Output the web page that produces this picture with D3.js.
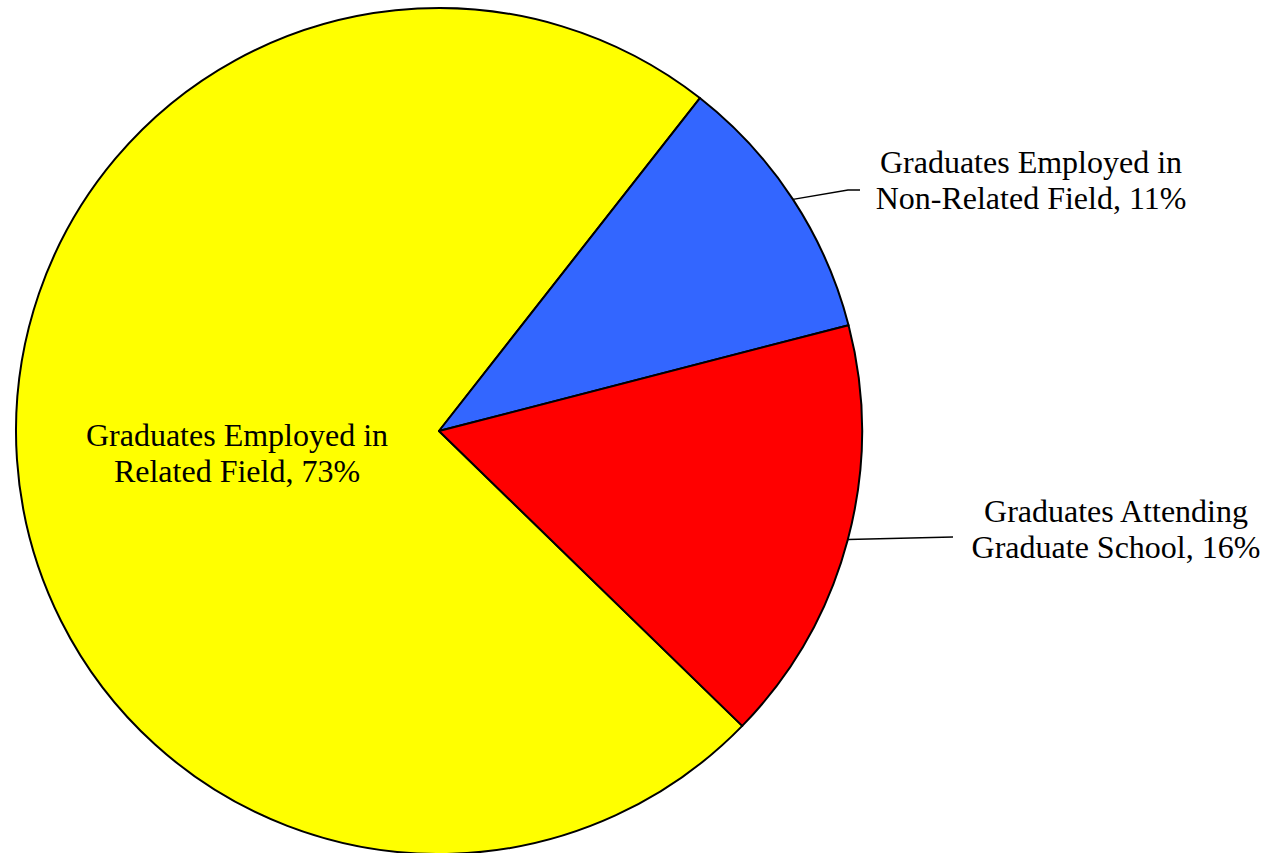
<!DOCTYPE html>
<html>
<head>
<meta charset="utf-8">
<script src="https://cdn.jsdelivr.net/npm/d3@7"></script>
<style>
  html, body { margin: 0; padding: 0; background: #fff; }
  svg { display: block; }
  text { font-family: "Liberation Serif", "Times New Roman", serif; font-size: 32px; fill: #000; }
</style>
</head>
<body>
<script>
/* DATA */
const categories = ["Related Field", "Non-Related Field", "Graduate School"];
const shares = [73.3, 10.4, 16.3];          // slice sizes
const colors = ["#ffff00", "#3366ff", "#ff0000"];
const labelLines = [
  ["Graduates Employed in", "Related Field, 73%"],
  ["Graduates Employed in", "Non-Related Field, 11%"],
  ["Graduates Attending", "Graduate School, 16%"]
];

/* LAYOUT */
const width = 1274, height = 853;
const cx = 439, cy = 431, radius = 423;
const startDeg = 134.2;
const lineGap = 35.5;
// label anchor (centre x, first baseline) and leader elbows, per slice
const labelPos = [
  {x: 237, y: 446, leader: null},
  {x: 1031, y: 173, leader: [[848, 190], [860, 190]]},
  {x: 1116, y: 522, leader: [[953, 537]]}
];

const svg = d3.select("body").append("svg")
    .attr("width", width)
    .attr("height", height);

const g = svg.append("g")
    .attr("transform", "translate(" + cx + "," + cy + ")");

const pie = d3.pie()
    .sort(null)
    .value(d => d)
    .startAngle(startDeg * Math.PI / 180)
    .endAngle(startDeg * Math.PI / 180 + 2 * Math.PI);

const arcs = pie(shares);

const arc = d3.arc().innerRadius(0).outerRadius(radius);
const rim = d3.arc().innerRadius(radius).outerRadius(radius);

g.selectAll("path.slice")
  .data(arcs)
  .enter().append("path")
    .attr("class", "slice")
    .attr("d", arc)
    .attr("fill", (d, i) => colors[i])
    .attr("stroke", "#000")
    .attr("stroke-width", 2)
    .attr("stroke-linejoin", "round");

// leader lines
arcs.forEach((d, i) => {
  const p = labelPos[i];
  if (!p.leader) return;
  const start = rim.centroid(d);
  const pts = [[start[0] + cx, start[1] + cy]].concat(p.leader);
  svg.append("path")
    .attr("d", d3.line()(pts))
    .attr("fill", "none")
    .attr("stroke", "#000")
    .attr("stroke-width", 1.5);
});

// labels
labelLines.forEach((lines, i) => {
  const p = labelPos[i];
  const t = svg.append("text")
      .attr("text-anchor", "middle");
  lines.forEach((s, j) => {
    t.append("tspan")
      .attr("x", p.x)
      .attr("y", p.y + j * lineGap)
      .text(s);
  });
});
</script>
</body>
</html>
